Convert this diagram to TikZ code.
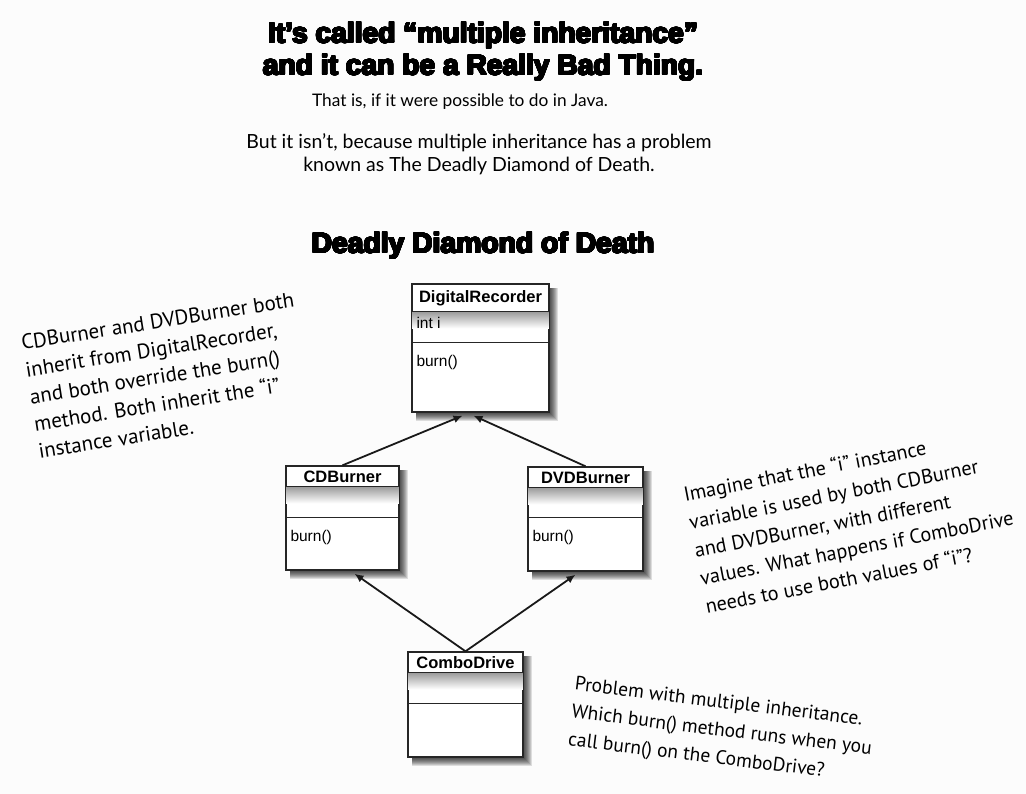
\documentclass[tikz,border=0pt]{standalone}
\usepackage{fontspec}
\usepackage[copies]{contour}
\setmainfont{Liberation Sans}
\newfontfamily\heavy{Liberation Sans}
\newfontfamily\comic{Lato}
\newfontfamily\hand{PT Sans}
\usetikzlibrary{calc,arrows.meta}
\pgfdeclarelayer{paper}
\pgfdeclarelayer{background}
\pgfsetlayers{paper,background,main}
\contourlength{0.75pt}
\contournumber{32}
\newcommand\black[1]{\contour{black}{#1}}

\tikzset{
  classbox/.style={draw=black!85, line width=1.4pt, fill=white, rectangle, inner sep=0pt},
  sepline/.style={draw=black!85, line width=1.2pt},
  classtitle/.style={font=\bfseries\fontsize{16.5}{18}\selectfont, inner sep=0pt},
  member/.style={font=\fontsize{15.5}{17}\selectfont, inner sep=0pt},
  inh/.style={-{Latex[length=9pt,width=8pt]}, line width=1.8pt, draw=black!90},
  headline/.style={font=\heavy\bfseries\fontsize{28.2}{32}\selectfont, align=center, inner sep=0pt},
  bodytext/.style={font=\comic\fontsize{17.3}{23}\selectfont, align=center, inner sep=0pt},
  note/.style={font=\hand\fontsize{21}{27.5}\selectfont, align=left, inner sep=0pt},
}

% #1 name, #2 centre, #3 width, #4 height, #5 header height,
% #6 attribute band height, #7 class name, #8 attribute, #9 method
\newcommand\umlclass[9]{%
  \node[classbox, minimum width=#3pt, minimum height=#4pt] (#1) at (#2) {};
  \begin{pgfonlayer}{background}
    \foreach \d in {1,...,8}
      \fill[black, opacity=0.12] ($(#1.north west)+(5,5)$) rectangle ($(#1.south east)+(\d,\d)$);
  \end{pgfonlayer}
  \shade[top color=black!40, bottom color=white]
    ($(#1.north west)+(0.8,#5)$) rectangle ($(#1.north east)+(-0.8,#5+17)$);
  \draw[sepline] ($(#1.north west)+(0,#5)$) -- ($(#1.north east)+(0,#5)$);
  \draw[sepline] ($(#1.north west)+(0,#5+#6)$) -- ($(#1.north east)+(0,#5+#6)$);
  \node[classtitle] (#1-title) at ($(#1.north)+(0,#5/2+1)$) {#7};
  \node[member, anchor=west] (#1-attr) at ($(#1.north west)+(5,#5+#6/2-4)$) {#8};
  \node[member, anchor=west] (#1-ops) at ($(#1.north west)+(5,#5+#6+20)$) {#9};
}

\begin{document}
\begin{tikzpicture}[x=1pt, y=-1pt]
  \useasboundingbox (0,0) rectangle (1026,794);
  \begin{pgfonlayer}{paper}
    \fill[black!1] (0,0) rectangle (1026,794);
  \end{pgfonlayer}

  % headings
  \node[headline] (head) at (483,52) {\black{It’s called “multiple inheritance”}\\\black{and it can be a Really Bad Thing.}};
  \node[bodytext] (sub1) at (460,102) {That is, if it were possible to do in Java.};
  \node[bodytext, font=\comic\fontsize{19.5}{23}\selectfont] (sub2) at (479,154) {But it isn’t, because multiple inheritance has a problem\\known as The Deadly Diamond of Death.};
  \node[headline, font=\heavy\bfseries\fontsize{28.3}{30}\selectfont] (diamond) at (483,246) {\black{Deadly Diamond of Death}};

  % classes
  \umlclass{dr}{480.5,348}{137}{128}{28}{31}{DigitalRecorder}{int i}{burn()}
  \umlclass{cd}{342.5,518}{113}{104}{21}{31}{CDBurner}{}{burn()}
  \umlclass{dvd}{585.5,519}{115}{104}{21}{30}{DVDBurner}{}{burn()}
  \umlclass{combo}{465.5,704.5}{115}{105}{21}{31}{ComboDrive}{}{}

  % inheritance arrows
  \draw[inh] (cd.north) -- ($(dr.south)+(-18,3)$);
  \draw[inh] (dvd.north) -- ($(dr.south)+(-7,3)$);
  \draw[inh] (combo.north) -- ($(cd.south)+(12,3)$);
  \draw[inh] (combo.north) -- ($(dvd.south)+(-10,3)$);

  % handwritten notes
  \node[note, rotate=9, anchor=north west] (leftnote) at (20,335)
    {CDBurner and DVDBurner both\\inherit from DigitalRecorder,\\and both override the burn()\\method. Both inherit the “i”\\instance variable.};
  \node[note, font=\hand\fontsize{20.3}{28.5}\selectfont, rotate=11, anchor=north west] (rightnote) at (682,486)
    {Imagine that the “i” instance\\variable is used by both CDBurner\\and DVDBurner, with different\\values. What happens if ComboDrive\\needs to use both values of “i”?};
  \node[note, font=\hand\fontsize{19.5}{28}\selectfont, rotate=-7, anchor=north west] (bottomnote) at (576,676)
    {Problem with multiple inheritance.\\Which burn() method runs when you\\call burn() on the ComboDrive?};
\end{tikzpicture}
\end{document}
